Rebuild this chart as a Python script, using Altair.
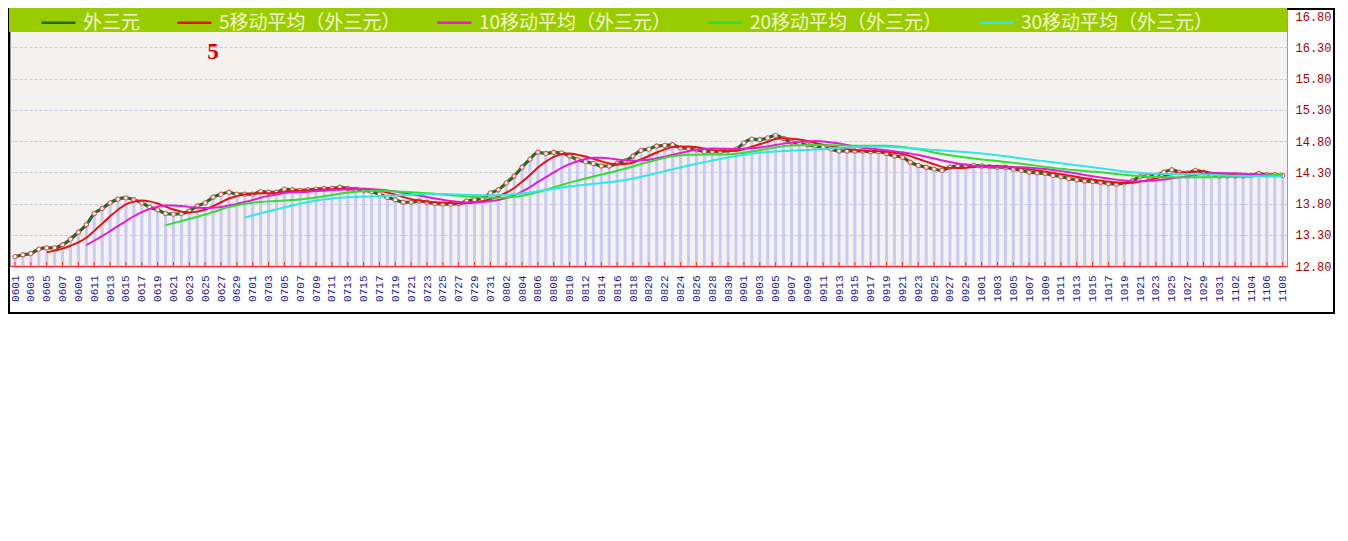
import altair as alt
import pandas as pd

# daily categories 0601 ... 1108
dates = [d.strftime('%m%d') for d in pd.date_range('2023-06-01', '2023-11-08', freq='D')]
label_dates = dates[::2]

values = [
    12.95, 12.98, 13.00, 13.07, 13.09, 13.09, 13.14, 13.23, 13.34, 13.46,
    13.64, 13.72, 13.81, 13.87, 13.89, 13.86, 13.81, 13.74, 13.70, 13.64,
    13.63, 13.64, 13.68, 13.76, 13.81, 13.90, 13.95, 13.98, 13.95, 13.95,
    13.95, 13.99, 13.98, 13.98, 14.03, 14.02, 14.01, 14.02, 14.03, 14.04,
    14.04, 14.06, 14.04, 14.03, 14.01, 13.99, 13.95, 13.90, 13.86, 13.82,
    13.82, 13.84, 13.82, 13.80, 13.79, 13.79, 13.80, 13.84, 13.86, 13.88,
    13.97, 14.02, 14.13, 14.24, 14.38, 14.51, 14.62, 14.60, 14.62, 14.61,
    14.56, 14.50, 14.47, 14.44, 14.40, 14.40, 14.44, 14.48, 14.56, 14.65,
    14.67, 14.72, 14.73, 14.74, 14.69, 14.68, 14.66, 14.63, 14.63, 14.63,
    14.65, 14.67, 14.77, 14.83, 14.82, 14.85, 14.89, 14.84, 14.78, 14.76,
    14.74, 14.72, 14.70, 14.67, 14.64, 14.64, 14.64, 14.64, 14.63, 14.63,
    14.60, 14.56, 14.54, 14.46, 14.41, 14.38, 14.35, 14.33, 14.38, 14.40,
    14.40, 14.41, 14.40, 14.39, 14.38, 14.38, 14.35, 14.33, 14.30, 14.29,
    14.28, 14.25, 14.23, 14.20, 14.18, 14.16, 14.15, 14.14, 14.12, 14.11,
    14.13, 14.16, 14.23, 14.24, 14.25, 14.30, 14.34, 14.30, 14.29, 14.33,
    14.30, 14.25, 14.24, 14.24, 14.24, 14.24, 14.25, 14.28, 14.26, 14.26,
    14.25,
]

series = ['外三元', '5移动平均（外三元）', '10移动平均（外三元）',
          '20移动平均（外三元）', '30移动平均（外三元）']
series_colors = ['#1e6b1e', '#e01414', '#e020d0', '#33dd33', '#33e6e6']
ma_windows = [5, 10, 20, 30]
y_ticks = [12.8, 13.3, 13.8, 14.3, 14.8, 15.3, 15.8, 16.3, 16.8]

note_dates = ['0626']
note_values = [16.22]
note_texts = ['5']

W, H = 1277, 256

df = pd.DataFrame({'idx': list(range(len(values))), 'date': dates, 'v': values})
one = pd.DataFrame({'k': [0]})
note_df = pd.DataFrame({'date': note_dates, 'v': note_values, 't': note_texts})

xscale = alt.Scale(type='point', domain=dates, padding=0.587, align=0.538)
xaxis = alt.Axis(values=label_dates, labelAngle=270, labelFont='Liberation Mono',
                 labelFontSize=11, labelColor='#1c1c8a', labelPadding=9,
                 labelOverlap=False, ticks=False, domainColor='#ff2a2a',
                 domainWidth=1.5, grid=False, title=None)
x = alt.X('date:O', scale=xscale, axis=xaxis)

yscale = alt.Scale(domain=[12.8, 16.896], nice=False, zero=False)
yaxis = alt.Axis(orient='right', values=y_ticks, format='.2f', labelFont='Liberation Mono',
                 labelFontSize=12, labelColor='#a00000', labelPadding=8, ticks=False,
                 domain=False, grid=True, gridColor='#c6c6e6', gridDash=[3, 2], title=None)
y = alt.Y('v:Q', scale=yscale, axis=yaxis)

leg = alt.Legend(orient='none', legendX=30, legendY=-6, direction='horizontal', title=None,
                 symbolType='stroke', symbolSize=1156, symbolStrokeWidth=2.5,
                 labelFont='Noto Sans CJK SC', labelFontSize=19, labelColor='#f6f6c4',
                 labelOffset=6, labelLimit=400, columnPadding=31, padding=0)
color = alt.Color('s:N', scale=alt.Scale(domain=series, range=series_colors), legend=leg)

base = alt.Chart(df)

frame = alt.Chart(one).mark_rect(fillOpacity=0, stroke='black', strokeWidth=2).encode(
    x=alt.value(-1), x2=alt.value(1324), y=alt.value(-1), y2=alt.value(303))

bars = base.mark_rule(color='#c9c9f3', strokeWidth=3).encode(x=x, y=y, y2=alt.datum(12.8))

tick_marks = base.transform_filter('datum.idx % 2 == 0').mark_rule(
    color='#ff2a2a', strokeWidth=1).encode(x=x, y=alt.value(H), y2=alt.value(H - 4))

main_line = base.transform_calculate(s="'外三元'").mark_line(
    strokeWidth=3.2, interpolate='monotone').encode(x=x, y=y, color=color)

markers = base.mark_circle(color='white', stroke='#d85a5a', strokeWidth=1.1,
                           size=18, opacity=1).encode(x=x, y=y)

ma = base
for n in ma_windows:
    ma = ma.transform_window(frame=[-(n - 1), 0], sort=[alt.SortField('idx', order='ascending')],
                             **{f'ma{n}': 'mean(v)'})
ma = ma.transform_fold([f'ma{n}' for n in ma_windows], as_=['key', 'mv']).transform_calculate(
    n="toNumber(replace(datum.key, 'ma', ''))").transform_calculate(
    s="toString(datum.n) + '移动平均（外三元）'").transform_filter(
    'datum.idx >= datum.n - 1')
ma_lines = ma.mark_line(strokeWidth=2, interpolate='monotone').encode(
    x=x, y=alt.Y('mv:Q', scale=yscale, axis=yaxis), color=color)

band = alt.Chart(one).mark_rect(color='#99cc00').encode(
    x=alt.value(-1), x2=alt.value(W), y=alt.value(-2), y2=alt.value(22))

note = alt.Chart(note_df).mark_text(color='#dd0000', font='Liberation Serif', fontSize=23,
                                    fontWeight='bold').encode(x=x, y=y, text='t:N')

chart = alt.layer(frame, bars, tick_marks, main_line, markers, ma_lines, band, note).properties(
    width=W, height=H,
    autosize=alt.AutoSizeParams(type='none'),
    padding={'left': 2, 'top': 2, 'right': 49, 'bottom': 49},
).configure_view(fill='#f4f2f1', stroke='#9a9a9a', strokeWidth=1)

chart.save('out.html', embed_options={'renderer': 'svg', 'actions': False})
